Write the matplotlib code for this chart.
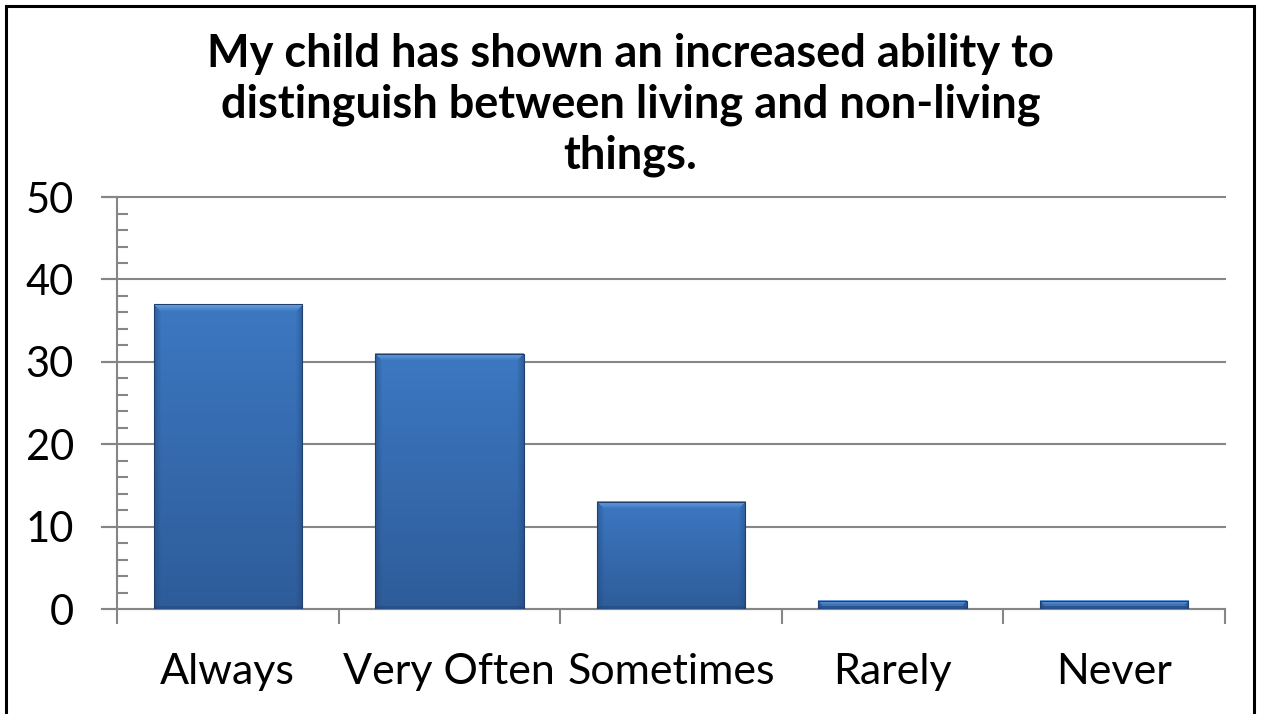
import numpy as np
import matplotlib.pyplot as plt
from matplotlib.patches import Rectangle
from matplotlib.ticker import MultipleLocator
from matplotlib.colors import to_rgb

categories = ['Always', 'Very Often', 'Sometimes', 'Rarely', 'Never']
values = [37, 31, 13, 1, 1]
title = 'My child has shown an increased ability to\ndistinguish between living and non-living\nthings.'

plt.rcParams['font.family'] = ['Lato', 'DejaVu Sans']

fig = plt.figure(figsize=(12.61, 7.14), dpi=100)
ax = fig.add_axes([0.0928, 0.147, 0.8786, 0.577])

# 外框
fig.patches.append(Rectangle((6 / 1261, -0.05), 1248 / 1261, 1.05 - 6 / 714, transform=fig.transFigure,
                             fill=False, edgecolor='black', linewidth=2.2))

x = np.arange(len(categories))
ax.set_xlim(-0.5, len(categories) - 0.5)
ax.set_ylim(0, 50)
bars = ax.bar(x, values, width=0.67, color='#3A70B6', edgecolor='none', zorder=3)


def bevel_image(w_px, h_px, bevel=7):
    # 渐变 + 斜角高光
    top = np.array(to_rgb('#3C78C1'))
    bot = np.array(to_rgb('#2E5C9A'))
    t = np.linspace(1, 0, h_px).reshape(-1, 1, 1)  # 1 = top row
    img = bot + (top - bot) * t
    img = np.repeat(img, w_px, axis=1)
    yy, xx = np.mgrid[0:h_px, 0:w_px]
    light = np.array(to_rgb('#78AAE6'))
    dark = np.array(to_rgb('#1F4272'))
    top_m = (yy < bevel) & (xx >= yy) & (xx < w_px - yy)
    side_m = ((xx < bevel) | (xx >= w_px - bevel)) & ~top_m
    bot_m = (yy >= h_px - 3) & ~top_m
    k = (1 - yy / bevel)[top_m].reshape(-1, 1)
    img[top_m] = img[top_m] * (1 - 0.8 * k) + light * 0.8 * k
    dist = np.minimum(xx, w_px - 1 - xx)
    ks = (1 - dist / bevel)[side_m].reshape(-1, 1)
    img[side_m] = img[side_m] * (1 - 0.45 * ks) + dark * 0.45 * ks
    img[bot_m] = img[bot_m] * 0.6 + dark * 0.4
    return img


fig.canvas.draw()
for b in bars:
    x0, y0 = b.get_x(), b.get_y()
    w, h = b.get_width(), b.get_height()
    p0 = ax.transData.transform((x0, y0))
    p1 = ax.transData.transform((x0 + w, y0 + h))
    w_px = max(int(round(p1[0] - p0[0])), 2)
    h_px = max(int(round(p1[1] - p0[1])), 2)
    img = bevel_image(w_px, h_px, bevel=min(7, h_px // 2 + 1))
    ax.imshow(img, extent=[x0, x0 + w, y0, y0 + h], origin='upper', aspect='auto',
              interpolation='nearest', zorder=3.5)
    ax.add_patch(Rectangle((x0, y0), w, h, fill=False, edgecolor='#1F3F6E', linewidth=0.8, zorder=4))

ax.set_xlim(-0.5, len(categories) - 0.5)
ax.set_ylim(0, 50)

ax.yaxis.set_major_locator(MultipleLocator(10))
ax.yaxis.set_minor_locator(MultipleLocator(2))
ax.tick_params(axis='y', which='major', direction='out', length=11, width=1.5, color='#868686',
               labelsize=30, pad=20)
ax.tick_params(axis='y', which='minor', direction='in', length=8, width=1.5, color='#868686')

ax.set_xticks(np.arange(len(categories) + 1) - 0.5)
ax.set_xticklabels([])
ax.set_xticks(x, minor=True)
ax.set_xticklabels(categories, minor=True)
ax.tick_params(axis='x', which='major', direction='out', length=11, width=1.5, color='#868686')
ax.tick_params(axis='x', which='minor', length=0, labelsize=31, pad=32)

for yv in range(0, 51, 10):
    ax.plot([-0.57, len(categories) - 0.5], [yv, yv], color='#868686', linewidth=1.5,
            clip_on=False, zorder=1)

for s in ['top', 'right']:
    ax.spines[s].set_visible(False)
for s in ['left', 'bottom']:
    ax.spines[s].set_color('#868686')
    ax.spines[s].set_linewidth(1.5)

fig.text(0.5, 0.853, title, ha='center', va='center', fontsize=32.5, fontweight='bold', linespacing=1.25)

fig.savefig('out.png', dpi=100)
